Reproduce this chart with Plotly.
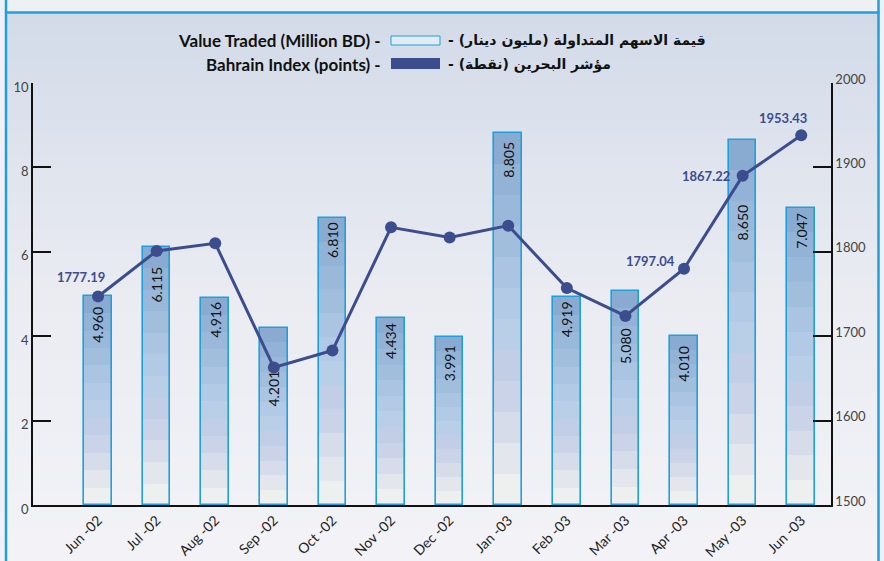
import plotly.graph_objects as go

# ---------------- data ----------------
months = ["Jun -02", "Jul -02", "Aug -02", "Sep -02", "Oct -02", "Nov -02", "Dec -02",
          "Jan -03", "Feb -03", "Mar -03", "Apr -03", "May -03", "Jun -03"]
value_traded = [4.960, 6.115, 4.916, 4.201, 6.810, 4.434, 3.991,
                8.805, 4.919, 5.080, 4.010, 8.650, 7.047]
bahrain_index = [1747, 1801, 1810, 1663, 1683, 1829, 1817,
                 1831, 1757, 1724, 1780, 1890, 1938]
index_labels = ["1777.19", "", "", "", "", "", "",
                "", "", "", "1797.04", "1867.22", "1953.43"]
left_ticks = [0, 2, 4, 6, 8, 10]
right_ticks = [1500, 1600, 1700, 1800, 1900, 2000]
legend_en = ["Value Traded (Million BD) -", "Bahrain Index (points) -"]
legend_ar = ["قيمة الاسهم المتداولة (مليون دينار)", "مؤشر البحرين (نقطة)"]

# ---------------- styles ----------------
W, H = 884, 561
ML, MR, MT, MB = 33, 53, 83, 56
PW, PH = W - ML - MR, H - MT - MB
FONT = "Lato, 'DejaVu Sans', sans-serif"
LINE_COL = "#3c4d8e"
EDGE_COL = "#1fa0dc"
bands = ["#8aabd1", "#92b2d6", "#9ab8da", "#a2bedd", "#aac4e1", "#b2cae5",
         "#b9cfe8", "#c2cde6", "#cbd3e8", "#d7dcea", "#e3e6ec", "#eef0ef"]
label_offsets = {0: (-17, 20), 10: (-34, 8), 11: (-37, 0), 12: (-18, 17)}
# distance (px) from bar top down to the centre of its rotated value label
bar_text_drop = [29, 38, 22, 61, 22, 23, 27, 26, 22, 55, 28, 83, 23]


def pxx(x):
    return (x - ML) / PW


def pxy(y):
    return (MT + PH - y) / PH


fig = go.Figure()

N = len(bands)
for k in range(N):
    fig.add_trace(go.Bar(
        x=months, y=[v / N for v in value_traded], base=[v * k / N for v in value_traded],
        marker=dict(color=bands[N - 1 - k], line=dict(width=0)),
        width=0.47, hoverinfo="skip", showlegend=False))

fig.add_trace(go.Bar(
    x=months, y=value_traded, width=0.47, showlegend=False,
    marker=dict(color="rgba(0,0,0,0)", line=dict(color=EDGE_COL, width=1.6))))

fig.add_trace(go.Scatter(
    x=months, y=bahrain_index, yaxis="y2", mode="lines+markers",
    line=dict(color=LINE_COL, width=3), marker=dict(size=12, color=LINE_COL),
    showlegend=False, cliponaxis=False))

annotations = []
for i, v in enumerate(value_traded):
    annotations.append(dict(x=months[i], y=v, xref="x", yref="y", text=f"{v:.3f}",
                            showarrow=False, textangle=-90, xanchor="center",
                            yanchor="middle", yshift=-bar_text_drop[i],
                            font=dict(family=FONT, size=14, color="#111")))

for i, lab in enumerate(index_labels):
    if lab:
        dx, dy = label_offsets.get(i, (0, 15))
        annotations.append(dict(x=months[i], y=bahrain_index[i], xref="x", yref="y2",
                                text=lab, showarrow=False, xshift=dx, yshift=dy,
                                font=dict(family=FONT, size=13, color=LINE_COL, weight="bold")))

# legend text
legend_rows_y = [41, 64]
for r in range(2):
    annotations.append(dict(x=pxx(383), y=pxy(legend_rows_y[r]), xref="paper", yref="paper",
                            xanchor="right", yanchor="middle", showarrow=False,
                            text="<b>" + legend_en[r] + "</b>",
                            font=dict(family=FONT, size=17, color="#111")))
    annotations.append(dict(x=pxx(446), y=pxy(legend_rows_y[r]), xref="paper", yref="paper",
                            xanchor="left", yanchor="middle", showarrow=False,
                            text="<b>-\u00a0\u200f" + legend_ar[r] + "\u200f</b>",
                            font=dict(family="'DejaVu Sans', sans-serif", size=14, color="#111")))

shapes = []
# background gradient
stops = [(13, (210, 219, 233)), (300, (234, 236, 242)), (561, (243, 243, 247))]


def grad(y):
    for (y0, c0), (y1, c1) in zip(stops[:-1], stops[1:]):
        if y0 <= y <= y1:
            t = (y - y0) / (y1 - y0)
            return "rgb(%d,%d,%d)" % tuple(round(a + (b - a) * t) for a, b in zip(c0, c1))
    return "rgb(%d,%d,%d)" % stops[-1][1]


step = 12
y = 13
while y < 561:
    y2 = min(y + step, 561)
    shapes.append(dict(type="rect", xref="paper", yref="paper", layer="below",
                       x0=pxx(6), x1=pxx(879), y0=pxy(y), y1=pxy(y2 + 0.5),
                       fillcolor=grad((y + y2) / 2), line=dict(width=0)))
    y = y2
# top strip
shapes.append(dict(type="rect", xref="paper", yref="paper", layer="below",
                   x0=pxx(0), x1=pxx(884), y0=pxy(0), y1=pxy(12),
                   fillcolor="#eef1f4", line=dict(width=0)))
# frame
shapes.append(dict(type="line", xref="paper", yref="paper", x0=pxx(5), x1=pxx(879.5),
                   y0=pxy(12.5), y1=pxy(12.5), line=dict(color=EDGE_COL, width=2.5)))
shapes.append(dict(type="line", xref="paper", yref="paper", x0=pxx(6), x1=pxx(6),
                   y0=pxy(0), y1=pxy(561), line=dict(color=EDGE_COL, width=2.5)))
shapes.append(dict(type="line", xref="paper", yref="paper", x0=pxx(878.5), x1=pxx(878.5),
                   y0=pxy(0), y1=pxy(561), line=dict(color=EDGE_COL, width=2.5)))
# legend swatches
shapes.append(dict(type="rect", xref="paper", yref="paper", x0=pxx(391), x1=pxx(440),
                   y0=pxy(45), y1=pxy(36), fillcolor="#e2ebf6",
                   line=dict(color=EDGE_COL, width=1)))
shapes.append(dict(type="rect", xref="paper", yref="paper", x0=pxx(391), x1=pxx(440),
                   y0=pxy(69), y1=pxy(58), fillcolor=LINE_COL, line=dict(width=0)))

fig.update_layout(
    width=W, height=H, margin=dict(l=ML, r=MR, t=MT, b=MB, autoexpand=False),
    paper_bgcolor="#f1f1f5", plot_bgcolor="rgba(0,0,0,0)",
    barmode="overlay", bargap=0, showlegend=False,
    font=dict(family=FONT),
    annotations=annotations, shapes=shapes,
    xaxis=dict(type="category", categoryorder="array", categoryarray=months,
               range=[-1.11, 12.508], showline=True, linecolor="#111", linewidth=1.5,
               ticks="", tickangle=-45, showgrid=False, zeroline=False,
               tickfont=dict(family=FONT, size=14, color="#222")),
    yaxis=dict(range=[0, 10], tickvals=left_ticks, ticks="inside", ticklen=18,
               tickwidth=1.5, tickcolor="#111", showline=True, linecolor="#111",
               linewidth=1.5, showgrid=False, zeroline=False, ticklabelshift=4,
               tickfont=dict(family=FONT, size=13, color="#444")),
    yaxis2=dict(range=[1500, 2000], tickvals=right_ticks, overlaying="y", side="right",
                ticks="inside", ticklen=18, tickwidth=1.5, tickcolor="#111",
                showline=True, linecolor="#111", linewidth=1.5, showgrid=False,
                zeroline=False, ticklabelshift=-4,
                tickfont=dict(family=FONT, size=13, color="#444")),
)

fig.write_html("out.html", config={"displayModeBar": False, "responsive": False})
with open("out.html", encoding="utf-8") as f:
    html = f.read()
html = html.replace("<body>", '<body style="margin:0;padding:0;overflow:hidden">', 1)
with open("out.html", "w", encoding="utf-8") as f:
    f.write(html)
